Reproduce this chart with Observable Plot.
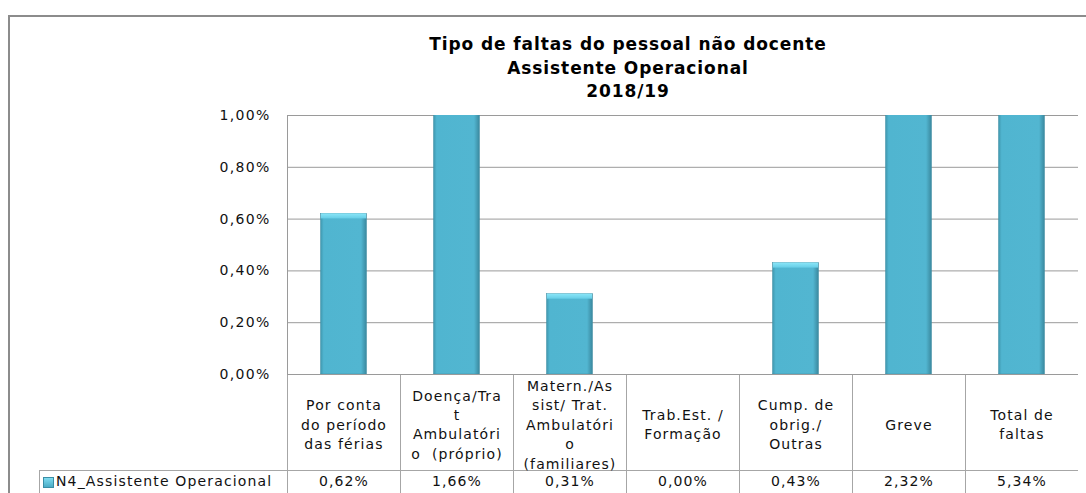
<!DOCTYPE html>
<html><head><meta charset="utf-8">
<script src="https://cdn.jsdelivr.net/npm/d3@7"></script>
<script src="https://cdn.jsdelivr.net/npm/@observablehq/plot@0.6"></script>
<style>
body{margin:0;background:#fff;}
#wrap{position:relative;width:1086px;height:493px;overflow:hidden;background:#fff;}
#border{position:absolute;left:8px;top:15px;width:1200px;height:600px;border-left:2px solid #8c8c8c;border-top:2px solid #8c8c8c;}
#title{position:absolute;left:328px;width:600px;top:33px;text-align:center;font-family:"DejaVu Sans",sans-serif;font-weight:bold;font-size:17px;letter-spacing:0.9px;line-height:23.5px;color:#000;}
#main{position:absolute;left:0;top:100px;}
#table{position:absolute;left:0;top:375px;}
#rowlabel{position:absolute;left:39px;top:470px;width:248px;height:40px;border-left:1px solid #a6a6a6;border-top:1px solid #a6a6a6;font-family:"DejaVu Sans",sans-serif;font-size:14px;letter-spacing:1.15px;color:#111;}
#rowlabel .key{position:absolute;left:3px;top:6px;width:9px;height:9px;background:linear-gradient(#7fdcf0,#4bacc6);border:1px solid #3a8ea6;}
#rowlabel .txt{position:absolute;left:16px;top:2px;white-space:nowrap;}
</style>
</head><body>
<div id="wrap">
  <div id="border"></div>
  <div id="title">Tipo de faltas do pessoal não docente<br>Assistente Operacional<br>2018/19</div>
  <div id="main"></div>
  <div id="table"></div>
  <div id="rowlabel"><span class="key"></span><span class="txt" id="seriesName"></span></div>
</div>
<script>
const categories = [
  "Por conta\ndo período\ndas férias",
  "Doença/Tra\nt\nAmbulatóri\no  (próprio)",
  "Matern./As\nsist/ Trat.\nAmbulatóri\no\n(familiares)",
  "Trab.Est. /\nFormação",
  "Cump. de\nobrig./\nOutras",
  "Greve",
  "Total de\nfaltas"
];
const values = [0.62, 1.66, 0.31, 0.00, 0.43, 2.32, 5.34];
const seriesName = "N4_Assistente Operacional";
const yTicks = [0, 0.2, 0.4, 0.6, 0.8, 1.0];

const data = categories.map((c, i) => ({cat: c, value: values[i]}));
const fmt = d => d.toFixed(2).replace(".", ",") + "%";
const font = "DejaVu Sans, sans-serif";

const main = Plot.plot({
  width: 1086, height: 286,
  marginTop: 15, marginBottom: 12, marginLeft: 287, marginRight: 8,
  style: {fontFamily: font, fontSize: "14px", color: "#111", letterSpacing: "1.3px", background: "transparent"},
  x: {type: "band", domain: categories, padding: 0, axis: null},
  y: {domain: [0, 1], axis: null},
  marks: [
    Plot.gridY(yTicks, {stroke: "#9a9a9a", strokeOpacity: 1}),
    Plot.axisY(yTicks, {tickSize: 0, tickPadding: 17, tickFormat: fmt, label: null, fontSize: 14}),
    Plot.frame({anchor: "left", stroke: "#9a9a9a"}),
    Plot.barY(data, {x: "cat", y: "value", fill: "url(#barGrad)", stroke: "#3f8ea4", strokeWidth: 0.5, insetLeft: 33.5, insetRight: 33.5, clip: true}),
    Plot.barY(data.filter(d => d.value > 0), {x: "cat", y1: "value", y2: "value", insetBottom: -5, fill: "url(#topGrad)", insetLeft: 34, insetRight: 34, clip: true})
  ]
});
const defs = document.createElementNS("http://www.w3.org/2000/svg", "defs");
defs.innerHTML = `<linearGradient id="barGrad" x1="0" x2="1" y1="0" y2="0">
  <stop offset="0" stop-color="#3f97ae"/><stop offset="0.07" stop-color="#50b5d0"/>
  <stop offset="0.88" stop-color="#52b6d1"/><stop offset="1" stop-color="#3a889e"/></linearGradient>
  <linearGradient id="topGrad" x1="0" x2="0" y1="0" y2="1">
  <stop offset="0" stop-color="#8ae6f8"/><stop offset="1" stop-color="#66cde6"/></linearGradient>`;
main.insertBefore(defs, main.firstChild);
document.getElementById("main").appendChild(main);

const table = Plot.plot({
  width: 1086, height: 118,
  marginTop: 0, marginBottom: 0, marginLeft: 287, marginRight: 8,
  style: {fontFamily: font, fontSize: "14px", color: "#111", letterSpacing: "1.1px", background: "transparent"},
  x: {type: "band", domain: categories, padding: 0, axis: null},
  y: {domain: [0, 118], range: [0, 118], axis: null},
  marks: [
    Plot.ruleX(categories, {x: d => d, dx: -56.5, stroke: "#a6a6a6"}),
    Plot.ruleY([95], {stroke: "#a6a6a6"}),
    Plot.text(categories, {x: d => d, y: 48, text: d => d, lineHeight: 1.39, fontSize: 14, fill: "#111"}),
    Plot.text(data, {x: "cat", y: 106, text: d => fmt(d.value), fontSize: 14, fill: "#111"})
  ]
});
document.getElementById("table").appendChild(table);
document.getElementById("seriesName").textContent = seriesName;
</script>
</body></html>
